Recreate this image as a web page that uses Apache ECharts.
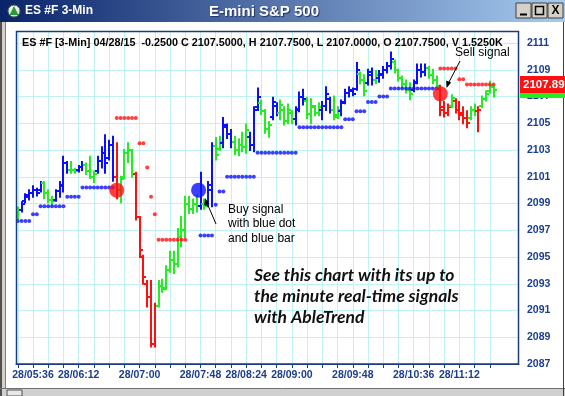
<!DOCTYPE html>
<html><head><meta charset="utf-8">
<script src="https://cdn.jsdelivr.net/npm/echarts@6/dist/echarts.min.js"></script>
<style>html,body{margin:0;padding:0;background:#fff;overflow:hidden}#c{width:565px;height:396px}</style>
</head><body><div id="c"></div>
<script>
// ---- data ----
const startMinute = 324;   // first bar 28/05:24
const barMinutes = 3;
const trend = [
 'G','B','B','B','B','B','B','G','G','G',
 'B','B','B','B','G','G','B','B','G','G',
 'G','B','B','B','B','B','R','G','G','G',
 'G','R','R','R','R','R','R','G','G','G',
 'G','G','G','G','G','G','G','G','B','G',
 'B','B','G','G','B','B','B','G','G','G',
 'G','B','B','B','G','G','G','B','B','G',
 'G','G','G','B','B','B','G','G','G','G',
 'B','B','B','G','G','B','B','B','B','B',
 'G','G','B','B','G','B','B','B','B','G',
 'G','G','G','G','B','B','B','B','G','G',
 'G','R','R','R','G','R','R','R','R','G',
 'G','R','G','G','G','G'];
const opens = [
 2098.0,2098.5,2099.2,2099.5,2099.8,2100.0,2100.0,2100.5,2099.8,2099.3,
 2099.3,2099.9,2100.3,2102.0,2101.5,2101.5,2101.5,2101.7,2101.9,2101.4,
 2101.0,2101.4,2102.2,2102.8,2102.4,2103.4,2101.0,2100.0,2101.0,2102.8,
 2103.0,2101.2,2098.0,2095.0,2093.0,2092.0,2088.5,2091.3,2092.8,2092.7,
 2094.0,2094.8,2094.5,2096.5,2097.0,2099.0,2098.6,2099.0,2098.8,2099.0,
 2098.9,2100.0,2103.3,2103.1,2103.5,2104.7,2104.2,2103.6,2103.0,2103.4,
 2103.2,2104.0,2103.4,2106.2,2106.5,2105.9,2104.6,2105.5,2106.3,2105.8,
 2106.0,2105.2,2105.8,2105.3,2106.1,2107.0,2106.7,2105.7,2106.2,2105.8,
 2106.0,2106.3,2106.8,2106.0,2105.6,2105.9,2106.6,2107.3,2107.4,2107.6,
 2108.7,2108.2,2108.0,2108.6,2108.2,2108.4,2108.6,2109.0,2109.3,2109.6,
 2109.0,2108.4,2107.9,2107.5,2107.5,2108.1,2109.0,2108.8,2109.1,2108.6,
 2108.2,2107.6,2106.2,2105.8,2106.3,2106.7,2106.0,2105.8,2105.4,2105.4,
 2106.0,2105.9,2106.3,2106.8,2107.4,2107.75];
const highs = [
 2098.7,2099.1,2099.7,2100.0,2100.3,2100.1,2100.6,2100.6,2100.0,2099.5,
 2100.0,2100.6,2102.5,2102.1,2102.1,2101.6,2101.8,2102.1,2102.0,2102.5,
 2101.4,2102.5,2103.2,2104.1,2103.7,2104.0,2103.5,2101.0,2103.0,2103.5,
 2103.0,2101.3,2098.0,2095.1,2093.2,2093.2,2091.5,2093.2,2093.3,2094.3,
 2095.4,2095.4,2097.1,2098.0,2099.5,2099.5,2099.3,2099.6,2101.3,2099.3,
 2100.6,2103.5,2103.9,2104.0,2105.4,2104.9,2104.5,2104.0,2103.8,2104.3,
 2104.9,2104.3,2106.2,2107.6,2106.7,2106.0,2105.1,2106.9,2106.5,2106.7,
 2106.2,2106.4,2105.9,2106.2,2107.3,2107.5,2106.9,2106.8,2106.3,2106.5,
 2106.6,2107.7,2106.9,2107.0,2106.2,2106.7,2107.5,2107.7,2107.6,2109.5,
 2108.8,2108.6,2109.0,2109.1,2108.9,2108.9,2109.2,2109.5,2110.3,2109.7,
 2109.0,2108.5,2108.2,2108.0,2108.2,2109.4,2109.4,2109.4,2109.2,2109.0,
 2108.5,2107.8,2106.6,2106.4,2107.1,2106.8,2106.6,2106.2,2105.9,2106.2,
 2106.4,2106.2,2107.0,2107.4,2108.1,2107.75];
const lows = [
 2097.9,2098.4,2099.1,2099.3,2099.5,2099.6,2099.9,2099.4,2099.1,2098.9,
 2099.2,2099.5,2099.9,2101.3,2101.3,2101.3,2101.4,2101.5,2101.2,2100.9,
 2100.6,2101.3,2101.7,2101.3,2102.3,2100.7,2099.4,2099.1,2100.9,2102.1,
 2101.0,2097.8,2095.0,2093.0,2091.3,2088.3,2088.3,2091.3,2092.4,2092.6,
 2093.9,2093.8,2094.3,2095.8,2096.5,2098.3,2098.3,2098.4,2098.6,2098.6,
 2098.8,2098.8,2102.3,2103.0,2103.2,2103.9,2103.2,2102.7,2102.6,2102.9,
 2102.8,2103.0,2102.9,2106.0,2105.7,2104.3,2104.0,2105.3,2105.6,2105.3,
 2104.9,2105.0,2105.0,2104.9,2105.9,2106.4,2105.4,2105.0,2105.6,2105.6,
 2105.3,2106.0,2105.8,2105.3,2105.4,2105.6,2106.5,2107.0,2107.1,2107.5,
 2108.0,2107.1,2107.9,2107.9,2108.0,2108.1,2108.4,2108.8,2109.1,2108.8,
 2108.2,2107.7,2107.3,2106.8,2107.4,2108.0,2108.5,2108.6,2108.4,2108.0,
 2107.6,2105.6,2105.5,2105.6,2106.2,2105.8,2105.3,2105.0,2104.7,2105.3,
 2105.6,2104.4,2106.2,2106.7,2107.3,2107.0];
const closes = [
 2098.5,2099.0,2099.6,2099.8,2100.0,2099.8,2100.5,2099.8,2099.3,2099.2,
 2099.9,2100.4,2102.0,2101.5,2101.5,2101.4,2101.7,2101.9,2101.4,2101.0,
 2101.2,2102.2,2102.8,2102.0,2103.4,2101.0,2100.0,2100.8,2102.8,2103.0,
 2101.2,2098.0,2095.5,2093.5,2092.0,2088.5,2091.3,2092.8,2092.6,2094.0,
 2094.8,2094.5,2096.5,2097.0,2099.0,2098.6,2099.0,2098.8,2099.0,2098.8,
 2100.4,2103.3,2102.6,2103.6,2104.9,2104.2,2103.6,2103.0,2103.4,2103.2,
 2104.5,2103.4,2106.0,2107.0,2105.9,2104.6,2104.9,2106.6,2105.8,2106.4,
 2105.2,2106.0,2105.3,2106.0,2107.0,2106.8,2105.7,2106.3,2105.8,2106.2,
 2106.3,2107.2,2106.0,2105.5,2106.0,2106.5,2107.3,2107.5,2107.2,2109.0,
 2108.2,2107.4,2108.8,2108.2,2108.6,2108.7,2109.0,2109.3,2109.8,2109.0,
 2108.4,2107.9,2107.5,2107.2,2108.0,2109.0,2108.8,2109.1,2108.6,2108.2,
 2107.8,2106.0,2105.8,2106.2,2106.9,2106.0,2105.6,2105.4,2105.0,2106.0,
 2105.9,2106.0,2106.8,2107.2,2107.8,2107.5];
// trailing stop dot segments: [firstBar, lastBar, price]
const blueStops = [[0,3,2097.7],[4,5,2098.2],[6,12,2098.8],[13,16,2099.5],[17,25,2100.2],
 [48,51,2096.6],[52,52,2098.9],[53,54,2099.9],[55,62,2101.0],[63,73,2102.8],[74,85,2104.7],
 [86,88,2105.3],[89,91,2105.9],[92,94,2106.6],[95,97,2107.0],[98,110,2107.6]];
const redStops = [[26,31,2105.4],[32,33,2103.5],[34,34,2101.7],[35,35,2099.5],[36,36,2098.2],
 [37,44,2096.3],[111,115,2109.1],[116,117,2108.3],[118,125,2107.9]];
// signals: [bar, price]
const sellSignals = [[26,2100.0],[111,2107.2]];
const buySignals = [[47.5,2100.0]];
const tickMinutes = [324,336,348,360,372,384,396,408,420,432,444,456,468,480,492,504,516,528,540,552,564,576,588,600,612,624,636,648,660,672,684,696];
const labelTimes = ['05:36','06:12','07:00','07:48','08:24','09:00','09:48','10:36','11:12'];
const lastPrice = '2107.89';

// ---- build ----
const colorOf = {B:'#0a10ff', G:'#22ee22', R:'#ff1010'};
const codes = ['B','G','R'];
const barData = opens.map((o,i)=>[startMinute+i*barMinutes, o, highs[i], lows[i], closes[i], codes.indexOf(trend[i])]);
const toMin = s => { const [h,m]=s.split(':').map(Number); return h*60+m; };
const labelMinutes = labelTimes.map(toMin);
const pad = n => String(n).padStart(2,'0');
const fmt = v => '28/' + pad(Math.floor(v/60)) + ':' + pad(Math.round(v%60));
const dots = segs => { const out=[]; segs.forEach(([a,b,p])=>{ for(let i=a;i<=b;i++) out.push([startMinute+i*barMinutes,p]); }); return out; };
const sig = arr => arr.map(([b,p])=>[startMinute+b*barMinutes,p]);

const navy = '#1a3d8c';
const FONT = 'Arial, "Liberation Sans", sans-serif';
const chart = echarts.init(document.getElementById('c'), null, {renderer:'canvas'});

chart.setOption({
  animation:false,
  backgroundColor:'#ffffff',
  grid:{left:16, right:46, top:31, bottom:32, show:false},
  xAxis:{type:'value', min:322.6, max:719,
    axisLine:{show:true, lineStyle:{color:navy, width:1}},
    axisTick:{show:true, length:4, lineStyle:{color:navy}, customValues:tickMinutes},
    axisLabel:{customValues:labelMinutes, formatter:fmt, color:navy, fontWeight:'bold', fontSize:10.5, fontFamily:FONT, margin:6},
    splitLine:{show:true, lineStyle:{color:'#bff2f2', width:1}}
  },
  yAxis:{type:'value', position:'right', min:2087, max:2111.9, interval:2,
    axisLine:{show:false}, axisTick:{show:false},
    axisLabel:{color:navy, fontWeight:'bold', fontSize:10.5, fontFamily:FONT, margin:8, showMaxLabel:false, formatter:v=>String(v)},
    splitLine:{show:true, lineStyle:{color:'#bff2f2', width:1}}
  },
  series:[
    {type:'custom', clip:true, data:barData, encode:{x:0, y:[1,2,3,4]},
      renderItem:function(params, api){
        const t=api.value(0);
        const ph=api.coord([t,api.value(2)]), pl=api.coord([t,api.value(3)]);
        const po=api.coord([t,api.value(1)]), pc=api.coord([t,api.value(4)]);
        const c=colorOf[codes[api.value(5)]];
        const x=Math.round(ph[0]);
        return {type:'group', children:[
          {type:'line', shape:{x1:x, y1:ph[1]-1, x2:x, y2:pl[1]+1}, style:{stroke:c, lineWidth:2}},
          {type:'line', shape:{x1:x-3, y1:Math.round(po[1]), x2:x, y2:Math.round(po[1])}, style:{stroke:c, lineWidth:2}},
          {type:'line', shape:{x1:x, y1:Math.round(pc[1]), x2:x+3, y2:Math.round(pc[1])}, style:{stroke:c, lineWidth:2}}
        ]};
      }
    },
    {type:'scatter', data:dots(blueStops), symbol:'circle', symbolSize:4, itemStyle:{color:'#0a10ff'}},
    {type:'scatter', data:dots(redStops), symbol:'circle', symbolSize:4, itemStyle:{color:'#ff1010'}},
    {type:'scatter', data:sig(sellSignals), symbol:'circle', symbolSize:15, itemStyle:{color:'#ff1010'}, z:5},
    {type:'scatter', data:sig(buySignals), symbol:'circle', symbolSize:15, itemStyle:{color:'#0a10ff'}, z:5}
  ],
  graphic:[
    // plot frame
    {type:'rect', z:50, shape:{x:16.5, y:31.5, width:502, height:332.5}, style:{fill:null, stroke:'#1c3a80', lineWidth:1.5}},
    // title bar
    {type:'rect', z:60, shape:{x:0, y:0, width:565, height:22},
      style:{fill:new echarts.graphic.LinearGradient(0,0,1,0,[{offset:0,color:'#0a246a'},{offset:1,color:'#a6caf0'}])}},
    {type:'circle', z:61, shape:{cx:14, cy:11, r:6}, style:{fill:'#e8f0e8', stroke:'#506050', lineWidth:1}},
    {type:'polygon', z:62, shape:{points:[[14,6],[18.5,15],[9.5,15]]}, style:{fill:'#2a9a3a'}},
    {type:'text', z:61, style:{x:25, y:11, text:'ES #F 3-Min', font:'bold 12px '+FONT, fill:'#ffffff', verticalAlign:'middle'}},
    {type:'text', z:61, style:{x:264, y:12, text:'E-mini S&P 500', font:'bold 15px '+FONT, fill:'#ffffff', align:'center', verticalAlign:'middle', textShadowColor:'#203060', textShadowBlur:1, textShadowOffsetX:1, textShadowOffsetY:1}},
    // window buttons
    {type:'rect', z:61, shape:{x:516, y:3, width:15, height:15}, style:{fill:'#d4d0c8', stroke:'#404040', lineWidth:1}},
    {type:'rect', z:61, shape:{x:532, y:3, width:15, height:15}, style:{fill:'#d4d0c8', stroke:'#404040', lineWidth:1}},
    {type:'rect', z:61, shape:{x:548, y:3, width:15, height:15}, style:{fill:'#d4d0c8', stroke:'#404040', lineWidth:1}},
    {type:'line', z:62, shape:{x1:520, y1:14.5, x2:527, y2:14.5}, style:{stroke:'#000', lineWidth:2}},
    {type:'rect', z:62, shape:{x:535.5, y:6.5, width:8, height:8}, style:{fill:null, stroke:'#000', lineWidth:1.5}},
    {type:'text', z:62, style:{x:555.5, y:11, text:'X', font:'bold 12px '+FONT, fill:'#000', align:'center', verticalAlign:'middle'}},
    // window frame
    {type:'rect', z:60, shape:{x:0, y:22, width:5, height:374}, style:{fill:'#d4d0c8'}},
    {type:'line', z:61, shape:{x1:1, y1:22, x2:1, y2:396}, style:{stroke:'#505050', lineWidth:2}},
    {type:'line', z:61, shape:{x1:5.5, y1:22, x2:5.5, y2:388}, style:{stroke:'#808080', lineWidth:1}},
    {type:'rect', z:60, shape:{x:0, y:388, width:565, height:8}, style:{fill:'#d0d0d0'}},
    {type:'line', z:61, shape:{x1:0, y1:388.5, x2:565, y2:388.5}, style:{stroke:'#707070', lineWidth:1}},
    {type:'rect', z:61, shape:{x:7, y:390, width:15, height:6}, style:{fill:'#e8e8e8', stroke:'#505050', lineWidth:1}},
    {type:'line', z:61, shape:{x1:563.5, y1:22, x2:563.5, y2:396}, style:{stroke:'#404040', lineWidth:1}},
    // header line
    {type:'text', z:55, style:{x:22, y:43, text:'ES #F [3-Min] 04/28/15  -0.2500 C 2107.5000, H 2107.7500, L 2107.0000, O 2107.7500, V 1.5250K',
      font:'bold 10.8px '+FONT, fill:'#000', verticalAlign:'middle', width:485, overflow:'truncate', ellipsis:''}},
    // price tag
    {type:'rect', z:70, shape:{x:520, y:92, width:45, height:6}, style:{fill:'#22ee22'}},
    {type:'rect', z:71, shape:{x:520, y:76, width:45, height:17}, style:{fill:'#ff1010'}},
    {type:'text', z:72, style:{x:523, y:85, text:lastPrice, font:'bold 11.5px '+FONT, fill:'#d8ffff', verticalAlign:'middle'}},
    // sell annotation
    {type:'text', z:55, style:{x:455, y:53, text:'Sell signal', font:'12px '+FONT, fill:'#000', verticalAlign:'middle'}},
    {type:'line', z:55, shape:{x1:460, y1:61, x2:448.5, y2:83}, style:{stroke:'#000', lineWidth:1}},
    {type:'polygon', z:55, shape:{points:[[446.5,88],[446.2,80.5],[451.2,82.5]]}, style:{fill:'#000'}},
    // buy annotation
    {type:'line', z:55, shape:{x1:216, y1:224, x2:207, y2:203}, style:{stroke:'#000', lineWidth:1}},
    {type:'polygon', z:55, shape:{points:[[205,198],[204.3,205.5],[209.2,203.5]]}, style:{fill:'#000'}},
    {type:'text', z:55, style:{x:228, y:210, text:'Buy signal', font:'12px '+FONT, fill:'#000', verticalAlign:'middle'}},
    {type:'text', z:55, style:{x:228, y:224, text:'with blue dot', font:'12px '+FONT, fill:'#000', verticalAlign:'middle'}},
    {type:'text', z:55, style:{x:228, y:239, text:'and blue bar', font:'12px '+FONT, fill:'#000', verticalAlign:'middle'}},
    // promo text
    {type:'text', z:55, style:{x:254, y:275, text:'See this chart with its up to', font:'italic bold 17.5px Lato, sans-serif', fill:'#111', verticalAlign:'middle'}},
    {type:'text', z:55, style:{x:254, y:296, text:'the minute real-time signals', font:'italic bold 17.5px Lato, sans-serif', fill:'#111', verticalAlign:'middle'}},
    {type:'text', z:55, style:{x:254, y:317, text:'with AbleTrend', font:'italic bold 17.5px Lato, sans-serif', fill:'#111', verticalAlign:'middle'}}
  ]
});
</script>
</body></html>
